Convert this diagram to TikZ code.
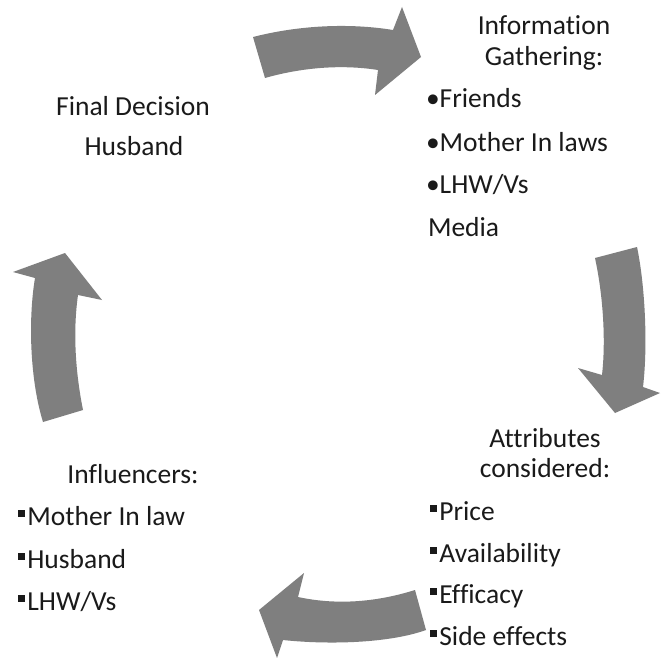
\documentclass[tikz,border=0pt]{standalone}
\usepackage{fontspec}
\setmainfont{Carlito}[RawFeature={-liga;-clig;-dlig;-calt}]
\definecolor{arrowgray}{HTML}{7F7F7F}
\definecolor{txt}{HTML}{1A1A1A}
\newcommand\sqbul{\rule[0.28em]{0.26em}{0.26em}\hspace{0.08em}}
\begin{document}
\begin{tikzpicture}[x=1pt,y=-1pt,
  lbl/.style={inner sep=0pt,outer sep=0pt,text=txt,font=\fontsize{27.5}{32}\selectfont},
  blockarrow/.style={fill=arrowgray,draw=none}]
\useasboundingbox (0,0) rectangle (661,658);
\fill[white] (0,0) rectangle (661,658);
% top arrow
\path[blockarrow] (253,37) .. controls (300,25) and (350,23) .. (393,30) -- (402,7) -- (421,57) -- (375,95) -- (378,70) .. controls (340,64) and (300,68) .. (265,78) -- cycle;
% right arrow
\path[blockarrow] (595,258) -- (637,247) .. controls (645,285) and (648,345) .. (643,387) -- (660,393) -- (615,413) -- (578,368) -- (602,375) .. controls (606,340) and (603,295) .. (595,258) -- cycle;
% bottom arrow
\path[blockarrow] (298,597) .. controls (340,606) and (380,601) .. (415,590) -- (426,630) .. controls (390,643) and (330,645) .. (283,640) -- (277,658) -- (259,610) -- (304,573) -- cycle;
% left arrow
\path[blockarrow] (43,422) -- (83,410) .. controls (75,370) and (73,330) .. (78,295) -- (102,300) -- (65,253) -- (13,272) -- (35,278) .. controls (28,320) and (30,380) .. (43,422) -- cycle;
% texts: top right
\node[lbl,anchor=base] (ig1) at (544,35) {Information};
\node[lbl,anchor=base] (ig2) at (544,66) {Gathering:};
\node[lbl,anchor=base west] (ig3) at (426,108) {•Friends};
\node[lbl,anchor=base west] (ig4) at (426,151) {•Mother In laws};
\node[lbl,anchor=base west] (ig5) at (426,193) {•LHW/Vs};
\node[lbl,anchor=base west] (ig6) at (428,236) {Media};
% bottom right
\node[lbl,anchor=base] (at1) at (545,447) {Attributes};
\node[lbl,anchor=base] (at2) at (545,477) {considered:};
\node[lbl,anchor=base west] (at3) at (430,520) {\sqbul Price};
\node[lbl,anchor=base west] (at4) at (430,562) {\sqbul Availability};
\node[lbl,anchor=base west] (at5) at (430,603) {\sqbul Efficacy};
\node[lbl,anchor=base west] (at6) at (430,645) {\sqbul Side effects};
% bottom left
\node[lbl,anchor=base] (in1) at (133,483) {Influencers:};
\node[lbl,anchor=base west] (in2) at (18,525) {\sqbul Mother In law};
\node[lbl,anchor=base west] (in3) at (18,568) {\sqbul Husband};
\node[lbl,anchor=base west] (in4) at (18,610) {\sqbul LHW/Vs};
% top left
\node[lbl,anchor=base] (fd1) at (133,116) {Final Decision};
\node[lbl,anchor=base] (fd2) at (134,155) {Husband};
\end{tikzpicture}
\end{document}
